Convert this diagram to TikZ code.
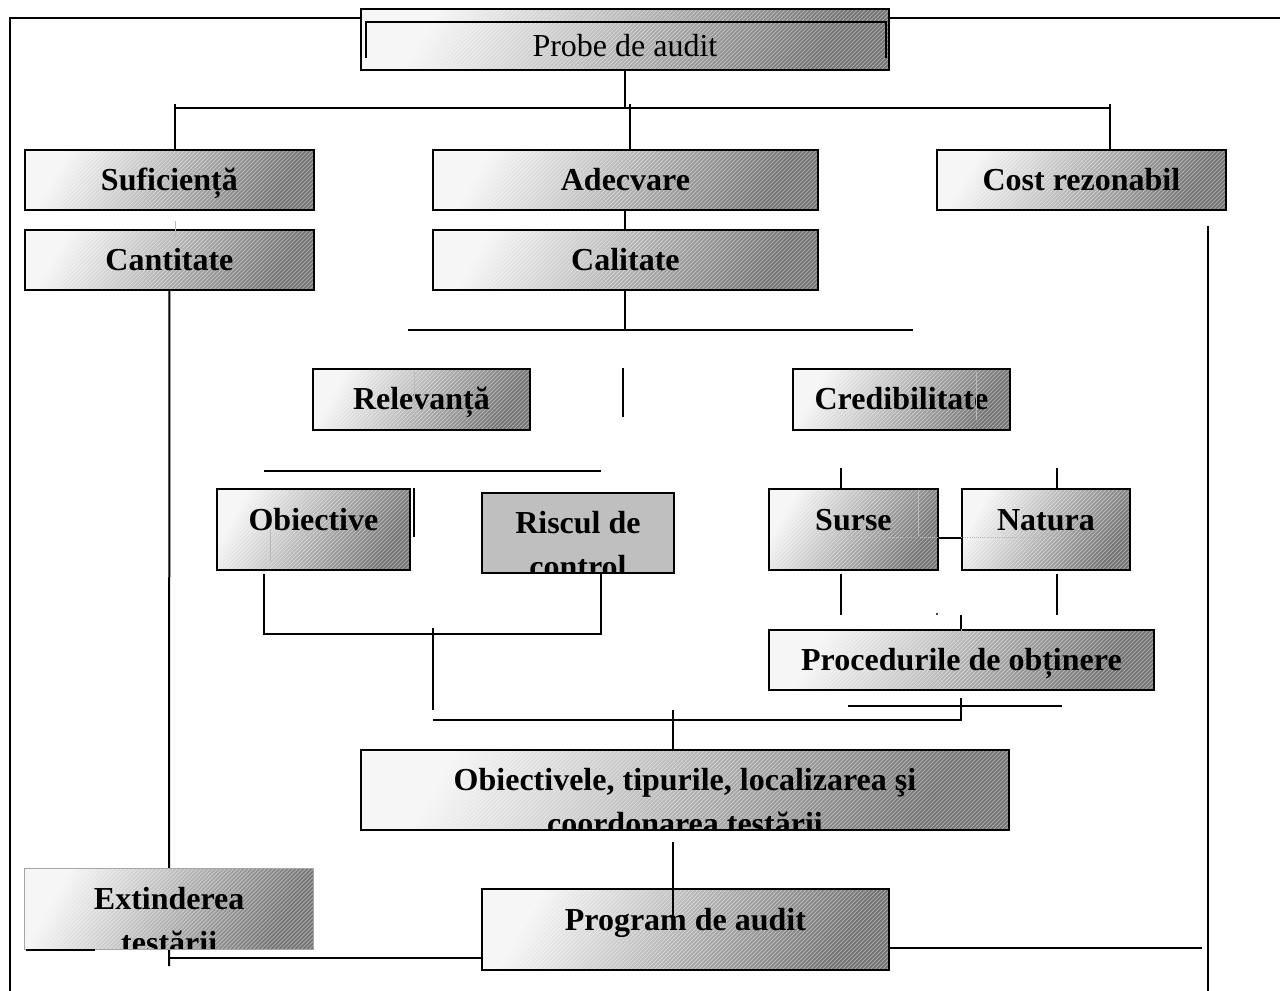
\documentclass[tikz,border=0pt]{standalone}
\usepackage{fontspec}
\setmainfont{Liberation Serif}

% fine white hatching laid over the shaded boxes
\newcommand\hatchlines{%
    \foreach \k in {-22,...,165}
        \draw[white, opacity=0.45, line width=0.5pt]
            ([xshift=\k*3pt]path picture bounding box.south west) -- ++(66pt,66pt);%
}

\begin{document}
\begin{tikzpicture}[
    x=0.75pt, y=-0.75pt,
    boxbase/.style={
        rectangle,
        draw,
        line width=1.4pt,
        anchor=north west,
        inner sep=0pt,
        align=center,
        text height=30.4pt,
        text depth=14.6pt,
        font=\fontsize{24}{27}\selectfont\bfseries
    },
    box/.style={
        boxbase,
        top color=gray!8,
        bottom color=black!55,
        shading angle=60,
        path picture={\hatchlines}
    },
    flatbox/.style={boxbase, fill=black!25},
    tall/.style={text height=31.1pt, text depth=29.6pt},
    cut/.style={
        path picture={
            \hatchlines
            \node[anchor=north, inner sep=0pt, align=center,
                  text height={}, text depth={},
                  font=\fontsize{24}{33}\selectfont\bfseries]
                at ([yshift=-8pt]path picture bounding box.north) {#1};
        }
    },
    plaincut/.style={
        path picture={
            \node[anchor=north, inner sep=0pt, align=center,
                  text height={}, text depth={},
                  font=\fontsize{24}{33}\selectfont\bfseries]
                at ([yshift=-8pt]path picture bounding box.north) {#1};
        }
    },
    link/.style={line width=1.5pt},
    ghost/.style={gray!55, line width=0.6pt}
]
\useasboundingbox (0,0) rectangle (1280,991);

% frame
\draw[link] (10,991) -- (10,18) -- (1280,18);

% boxes
\node[box, minimum width=396pt, minimum height=45.75pt,
      font=\fontsize{24}{27}\selectfont, text height=35.6pt, text depth=10pt]
    (probe) at (360,8) {Probe de audit};

\node[box, minimum width=216.75pt, minimum height=45pt] (sufic) at (24,149) {Suficiență};
\node[box, minimum width=288.75pt, minimum height=45pt] (adecv) at (432,149) {Adecvare};
\node[box, minimum width=216.75pt, minimum height=45pt] (cost) at (936,149) {Cost rezonabil};

\node[box, minimum width=216.75pt, minimum height=45pt] (cantit) at (24,229) {Cantitate};
\node[box, minimum width=288.75pt, minimum height=45pt] (calit) at (432,229) {Calitate};

\node[box, minimum width=162.75pt, minimum height=45.75pt] (relev) at (312,368) {Relevanță};
\node[box, minimum width=162.75pt, minimum height=45.75pt] (cred) at (792,368) {Credibilitate};

\node[box, tall, minimum width=144.75pt, minimum height=60.75pt] (obiect) at (216,488) {Obiective};
\node[flatbox, plaincut={Riscul de\\control}, minimum width=144pt, minimum height=60pt] (riscul) at (481,492) {};
\node[box, tall, minimum width=126.75pt, minimum height=60.75pt] (surse) at (768,488) {Surse};
\node[box, tall, minimum width=126pt, minimum height=60.75pt] (natura) at (961,488) {Natura};

\node[box, minimum width=288.75pt, minimum height=45pt] (proced) at (768,629) {Procedurile de obținere};

\node[box, cut={Obiectivele, tipurile, localizarea şi\\coordonarea testării},
      minimum width=486pt, minimum height=60pt] (obtest) at (360,749) {};

\node[box, tall, minimum width=305.25pt, minimum height=60.75pt] (program) at (481,888) {Program de audit};

% inner frame of the title
\draw[line width=1.4pt] ([xshift=4.5pt, yshift=-37.5pt]probe.north west)
    -- ([xshift=4.5pt, yshift=-10.5pt]probe.north west)
    -- ([xshift=-3pt, yshift=-10.5pt]probe.north east)
    -- ([xshift=-3pt, yshift=-37.5pt]probe.north east);

% connectors
\coordinate (bar1L) at (175,108);
\coordinate (bar1M) at (630,104);
\coordinate (bar1R) at (1110,108);
\draw[link] (probe.south) -- (probe.south |- bar1L);
\draw[link] (bar1L) -- (bar1R);
\draw[link] (bar1L |- 0,104) -- (bar1L |- sufic.north);
\draw[link] (bar1M) -- (bar1M |- adecv.north);
\draw[link] (bar1R |- 0,104) -- (bar1R |- cost.north);

\draw[link] (adecv.south) -- (calit.north);

\coordinate (bar2L) at (408,330);
\coordinate (bar2R) at (913,330);
\draw[link] (calit.south) -- (calit.south |- bar2L);
\draw[link] (bar2L) -- (bar2R);

\coordinate (v1) at (623,368);
\draw[link] (v1) -- ++(0,49);

\coordinate (bar3L) at (264,471);
\coordinate (bar3R) at (601,471);
\draw[link] (bar3L) -- (bar3R);

\coordinate (v2) at (414,488);
\draw[link] (v2) -- ++(0,49);

\coordinate (bar4L) at (264,634);
\coordinate (bar4R) at (601,634);
\draw[link] (bar4L |- obiect.south) ++(0,3) -- (bar4L) -- (bar4R) -- (bar4R |- riscul.south);

\coordinate (v3) at (433,628);
\draw[link] (v3) -- ++(0,82);

\draw[link] (surse.north -| 841,0) ++(0,-20) -- (surse.north -| 841,0);
\draw[link] (natura.north -| 1057,0) ++(0,-20) -- (natura.north -| 1057,0);
\draw[link] ([yshift=-6.5pt]surse.east) -- ([yshift=-6.5pt]natura.west);
\draw[link] (surse.south -| 841,0) ++(0,3) -- ++(0,41);
\draw[link] (natura.south -| 1057,0) ++(0,3) -- ++(0,41);
\fill (937,614) circle (1.2);
\draw[link] (proced.north -| 961,0) ++(0,-14) -- (proced.north -| 961,0);

\coordinate (bar5L) at (433,720);
\coordinate (bar5R) at (961,720);
\draw[link] (bar5L) -- (bar5R) -- ++(0,-22);
\coordinate (bar6L) at (848,706);
\coordinate (bar6R) at (1062,706);
\draw[link] (bar6L) -- (bar6R);

\coordinate (v4) at (673,710);
\draw[link] (v4) -- (v4 |- obtest.north);
\draw[link] (v4 |- obtest.south) ++(0,11) -- (v4 |- program.north) -- ++(0,27);

% long lines round the bottom
\coordinate (bar7L) at (169,958);
\draw[link] (cantit.south) -- (bar7L) -- ++(0,8);
\draw[link] (bar7L) -- (bar7L -| program.west);

\node[box, tall, cut={Extinderea\\testării}, draw=gray!70, line width=1pt,
      minimum width=216.75pt, minimum height=60.75pt] (extind) at (24,868) {};
\draw[line width=1.6pt] ([xshift=1.5pt]extind.south west) -- ++(69,0);

\coordinate (v5) at (1208,226);
\draw[link] (v5) -- (1208,991);
\draw[link] (program.east |- 0,948) -- (1202,948);

% faint lines seen through the boxes
\draw[ghost] (175,221) -- (175,236);
\draw[ghost] (414,372) -- (414,420);
\draw[ghost] (976,372) -- (976,420);
\draw[ghost] (270,530) -- (270,562);
\draw[ghost] (918,490) -- (918,537);
\draw[ghost, densely dotted] (847,537) -- (937,537);
\draw[ghost, densely dotted] (961,537) -- (1063,537);
\draw[ghost] (961,629) -- (961,641);
\draw[ghost] (169,930) -- (169,948);

\end{tikzpicture}
\end{document}
